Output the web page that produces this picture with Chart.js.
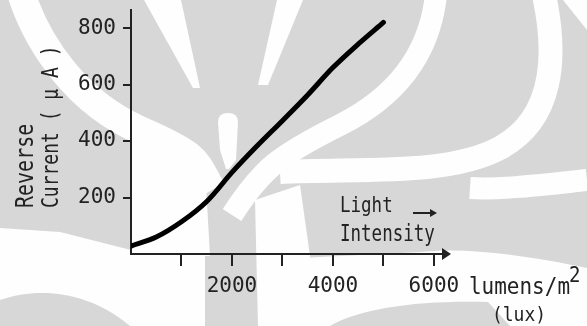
<!DOCTYPE html>
<html>
<head>
<meta charset="utf-8">
<script src="https://cdn.jsdelivr.net/npm/chart.js@4.4.0/dist/chart.umd.min.js"></script>
<style>
  html, body { margin: 0; padding: 0; background: #d7d7d7; }
  #wrap { position: relative; width: 587px; height: 326px; overflow: hidden; }
  #bg, #chart { position: absolute; left: 0; top: 0; }
</style>
</head>
<body>
<div id="wrap">
  <!-- watermark swirls behind the chart -->
  <svg id="bg" width="587" height="326" viewBox="0 0 587 326">
    <rect width="587" height="326" fill="#d7d7d7"/>
    <g fill="#fefefe" stroke="none">
      <polygon points="131,128 205,168 210,256 131,256"/>
      <polygon points="144,0 181,0 200,88 193,88"/>
      <polygon points="277,0 303,0 268,85 258,85"/>
      <path d="M218,122 Q218,113 228,113 Q238,113 238,122 L236,160 L229,169 L226,169 L220,150 Z"/>
      <polygon points="563,0 587,0 587,30"/>
      <polygon points="255,200 300,185 310,256 300,326 258,326"/>
      <polygon points="0,228 60,232 131,250 205,256 205,326 0,326"/>
      <path d="M 300 258 L 420 252 C 470 246, 540 258, 587 268 L 587 326 L 300 326 Z"/>
    </g>
    <g fill="none" stroke="#fefefe">
      <path d="M 20 -10 C 38 48, 80 104, 140 130 S 195 160, 212 190" stroke-width="28"/>
      <path d="M 436 -5 C 430 50, 400 95, 340 125 S 262 168, 232 215" stroke-width="22"/>
      <path d="M 544 -5 C 558 60, 552 120, 500 148 S 360 168, 280 172" stroke-width="24"/>
      <path d="M 587 180 C 540 185, 500 190, 470 188" stroke-width="22"/>
    </g>
    <g fill="#d7d7d7" stroke="none">
      <path d="M 0 300 C 40 286, 90 292, 130 326 L 0 326 Z"/>
      <path d="M 330 326 C 360 308, 420 300, 488 302 L 510 326 Z"/>
    </g>
  </svg>
  <canvas id="chart" width="587" height="326"></canvas>
</div>
<script>
// light intensity (lumens/m^2) and reverse current (uA)
const lightIntensity = [0, 500, 1000, 1500, 2000, 2500, 3000, 3500, 4000, 4500, 5000];
const reverseCurrent = [28, 60, 114, 186, 289, 383, 472, 563, 660, 743, 820];

// tick positions, and the ones that carry a label
const xTickValues = [1000, 2000, 3000, 4000, 5000, 6000];
const xLabelledTicks = [2000, 4000, 6000];
const yTickValues = [200, 400, 600, 800];

const FONT = '"DejaVu Sans Mono", monospace';
const INK = '#222';

// draws the bits Chart.js has no option for: axis arrow, split titles, unit text
const extras = {
  id: 'extras',
  afterDraw(chart) {
    const ctx = chart.ctx;
    const area = chart.chartArea;
    const xs = chart.scales.x;
    ctx.save();
    ctx.fillStyle = INK;
    ctx.strokeStyle = INK;

    // arrowhead on the x axis
    ctx.beginPath();
    ctx.moveTo(area.right + 4, area.bottom);
    ctx.lineTo(area.right - 5, area.bottom - 6);
    ctx.lineTo(area.right - 5, area.bottom + 6);
    ctx.closePath();
    ctx.fill();

    const stretched = (text, x, y, size, sy, rot) => {
      ctx.save();
      ctx.translate(x, y);
      if (rot) ctx.rotate(-Math.PI / 2);
      ctx.scale(1, sy);
      ctx.font = size + 'px ' + FONT;
      ctx.textAlign = 'left';
      ctx.textBaseline = 'alphabetic';
      ctx.fillText(text, 0, 0);
      ctx.restore();
    };
    // y title, two rotated lines starting at the same height
    stretched('Reverse', 33, 208, 20, 1.25, true);
    stretched('Current ( \u03bc A )', 58, 208, 18, 1.25, true);

    // "Light Intensity" label with its little arrow
    stretched('Light', 340, 212, 17.5, 1.25, false);
    stretched('Intensity', 340, 241, 17.5, 1.35, false);
    ctx.lineWidth = 2;
    ctx.beginPath();
    ctx.moveTo(413, 213);
    ctx.lineTo(431, 213);
    ctx.stroke();
    ctx.beginPath();
    ctx.moveTo(437, 213);
    ctx.lineTo(430, 209);
    ctx.lineTo(430, 217);
    ctx.closePath();
    ctx.fill();

    // unit after the last x tick label
    const x6 = xs.getPixelForValue(6000);
    stretched('lumens/m', x6 + 35, 294, 21, 1.1, false);
    stretched('2', x6 + 135, 282, 19, 1.1, false);
    stretched('(lux)', x6 + 58, 321, 18, 1.1, false);
    ctx.restore();
  }
};

const ctx = document.getElementById('chart');

new Chart(ctx, {
  type: 'line',
  data: {
    datasets: [{
      data: lightIntensity.map((x, i) => ({ x: x, y: reverseCurrent[i] })),
      borderColor: '#000',
      borderWidth: 5,
      pointRadius: 0,
      tension: 0.35,
      borderCapStyle: 'round',
      borderJoinStyle: 'round'
    }]
  },
  options: {
    responsive: false,
    animation: false,
    devicePixelRatio: 1,
    layout: { padding: { top: 10, right: 140, left: 0, bottom: 0 } },
    plugins: {
      legend: { display: false },
      tooltip: { enabled: false }
    },
    scales: {
      x: {
        type: 'linear',
        bounds: 'data',
        min: 0,
        max: 6260,
        afterBuildTicks: s => { s.ticks = xTickValues.map(v => ({ value: v })); },
        afterFit: s => {
          s.height = 72;
          s.paddingLeft = 0;
          s.paddingRight = 0;
        },
        border: { color: INK, width: 2 },
        grid: {
          drawOnChartArea: false,
          drawTicks: true,
          tickLength: 12,
          lineWidth: 2,
          color: INK
        },
        ticks: {
          autoSkip: false,
          maxRotation: 0,
          padding: 8,
          color: INK,
          font: { family: FONT, size: 21 },
          callback: v => xLabelledTicks.includes(v) ? String(v) : ''
        }
      },
      y: {
        type: 'linear',
        bounds: 'data',
        min: 0,
        max: 864,
        afterBuildTicks: s => { s.ticks = yTickValues.map(v => ({ value: v })); },
        afterFit: s => {
          s.width = 131;
          s.paddingTop = 0;
          s.paddingBottom = 0;
        },
        border: { color: INK, width: 2 },
        grid: {
          drawOnChartArea: false,
          drawTicks: true,
          tickLength: 8,
          lineWidth: 2,
          color: INK
        },
        ticks: {
          autoSkip: false,
          padding: 7,
          color: INK,
          font: { family: FONT, size: 21 }
        }
      }
    }
  },
  plugins: [extras]
});
</script>
</body>
</html>
